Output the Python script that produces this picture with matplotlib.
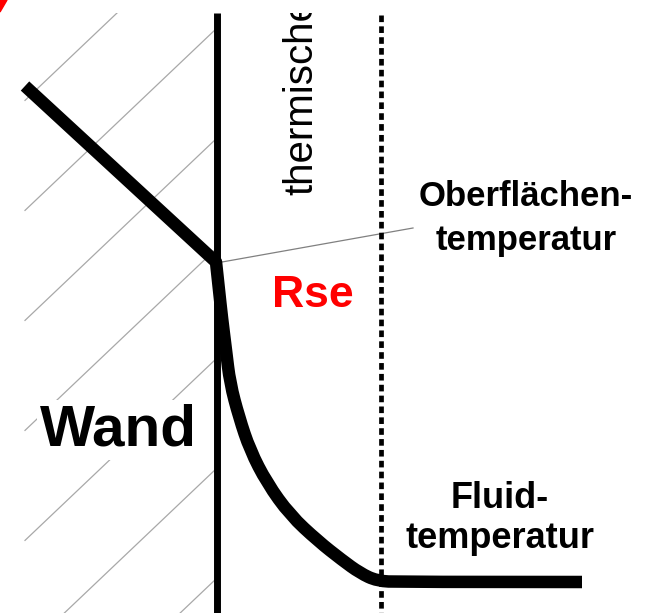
import numpy as np
import matplotlib.pyplot as plt
from matplotlib.path import Path
from matplotlib.patches import PathPatch

# temperature profile: wall part (straight) then fluid boundary layer, pixel units
profile_x = [25, 216, 219, 222, 226, 230, 239, 250, 267, 290, 318, 342, 360, 377, 400, 582]
profile_y = [86, 262, 290, 318, 350, 383, 417, 450, 483, 515, 541, 560, 573, 581, 582, 582]

# hatch lines of the wall, given by where they hit the wall surface
hatch_wall_y = [-82, 28, 138, 248, 358, 468, 578]
hatch_slope = 0.95

wall_x = 217
layer_x = 381
wall_left = 25

leader_x = [222, 413]
leader_y = [262, 228]

fig = plt.figure(figsize=(6.54, 6.13), dpi=100)
ax = fig.add_axes([0, 0, 1, (613 - 13) / 613])
ax.set_xlim(0, 654)
ax.set_ylim(613, 13)
ax.axis('off')

# hatching of the wall
for yw in hatch_wall_y:
    xs = np.array([wall_left, wall_x])
    ys = yw + hatch_slope * (wall_x - xs)
    ax.plot(xs, ys, color='#a8a8a8', lw=0.9, zorder=1)

# wall surface and boundary layer edge
ax.plot([wall_x, wall_x], [13, 613], color='black', lw=5, solid_capstyle='butt', zorder=3)
ax.plot([layer_x, layer_x], [15, 613], color='black', lw=3.4,
        linestyle=(0, (1.4, 0.9)), zorder=3)

# leader line to the surface temperature label
ax.plot(leader_x, leader_y, color='#808080', lw=0.9, zorder=2)

# temperature curve: straight in the wall, then smooth in the fluid
# (quadratic bezier with the read points as control points)
pts = list(zip(profile_x, profile_y))
verts = [pts[0], pts[1]]
codes = [Path.MOVETO, Path.LINETO]
curve = pts[1:]
for i in range(1, len(curve) - 1):
    if i == len(curve) - 2:
        end = curve[i + 1]
    else:
        end = ((curve[i][0] + curve[i + 1][0]) / 2, (curve[i][1] + curve[i + 1][1]) / 2)
    verts += [curve[i], end]
    codes += [Path.CURVE3, Path.CURVE3]
ax.add_patch(PathPatch(Path(verts, codes), fill=False, edgecolor='black', lw=9,
                       capstyle='butt', joinstyle='round', zorder=4))

font = ['Liberation Sans', 'DejaVu Sans']

ax.text(312, 195, 'thermische', rotation=90, rotation_mode='anchor',
        ha='left', va='baseline', fontsize=29, family=font, clip_on=True)
ax.text(526, 206, 'Oberflächen-', ha='center', va='baseline', fontsize=25,
        fontweight='bold', family=font)
ax.text(526, 250, 'temperatur', ha='center', va='baseline', fontsize=25,
        fontweight='bold', family=font)
ax.text(272, 307, 'Rse', ha='left', va='baseline', fontsize=32,
        fontweight='bold', color='#ff0000', family=font)
ax.text(40, 445, 'Wand', ha='left', va='baseline', fontsize=42,
        fontweight='bold', family=font, zorder=5,
        bbox=dict(facecolor='white', edgecolor='none', pad=2))
ax.text(500, 508, 'Fluid-', ha='center', va='baseline', fontsize=26,
        fontweight='bold', family=font)
ax.text(500, 548, 'temperatur', ha='center', va='baseline', fontsize=26,
        fontweight='bold', family=font)

# small red mark in the top left corner
ax.fill([0, 7, 0], [0, 0, 12], color='#ff0000', clip_on=False, zorder=6)

fig.savefig('out.png', dpi=100)
